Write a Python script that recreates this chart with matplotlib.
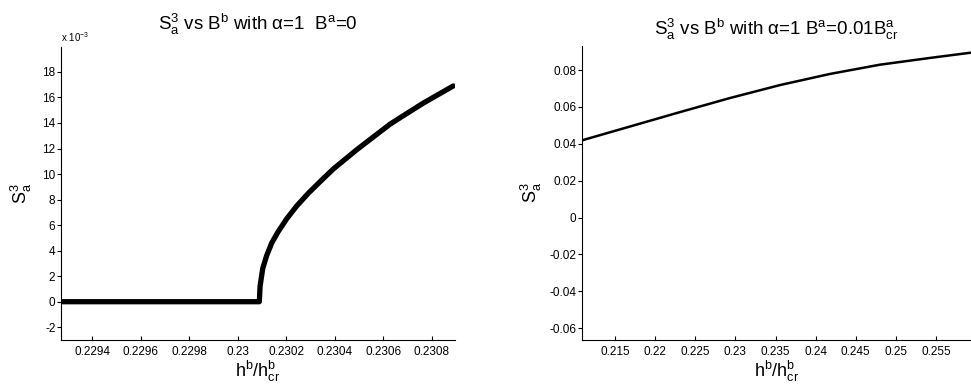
import matplotlib
matplotlib.use("Agg")
import matplotlib.pyplot as plt

plt.rcParams['font.family'] = ['Liberation Sans', 'DejaVu Sans']
plt.rcParams['mathtext.fontset'] = 'custom'
plt.rcParams['mathtext.rm'] = 'Liberation Sans'
plt.rcParams['mathtext.it'] = 'Liberation Sans'
plt.rcParams['mathtext.bf'] = 'Liberation Sans:bold'
plt.rcParams['axes.unicode_minus'] = False

# left panel: B^a = 0 (S values in units of 1e-3)
h_left = [0.22927, 0.22960, 0.23000, 0.230089, 0.230092, 0.230103, 0.230119,
          0.230140, 0.230167, 0.230202, 0.230243, 0.230291, 0.230339, 0.230394,
          0.230490, 0.230531, 0.230627, 0.230668, 0.230764, 0.230805, 0.230888]
s_left = [0.0, 0.0, 0.0, 0.0, 1.2, 2.6, 3.6,
          4.6, 5.5, 6.5, 7.5, 8.5, 9.4, 10.4,
          11.9, 12.5, 13.9, 14.4, 15.55, 16.0, 16.9]
xt_left = [0.2294, 0.2296, 0.2298, 0.2300, 0.2302, 0.2304, 0.2306, 0.2308]
xtl_left = ['0.2294', '0.2296', '0.2298', '0.23', '0.2302', '0.2304', '0.2306', '0.2308']
yt_left = [-2, 0, 2, 4, 6, 8, 10, 12, 14, 16, 18]

# right panel: B^a = 0.01 B^a_cr
h_right = [0.2109, 0.2231, 0.2293, 0.2356, 0.2418, 0.2480, 0.2543, 0.2593]
s_right = [0.0419, 0.0572, 0.0648, 0.0719, 0.0779, 0.0829, 0.0866, 0.0894]
xt_right = [0.215, 0.22, 0.225, 0.23, 0.235, 0.24, 0.245, 0.25, 0.255]
xtl_right = ['0.215', '0.22', '0.225', '0.23', '0.235', '0.24', '0.245', '0.25', '0.255']
yt_right = [-0.06, -0.04, -0.02, 0, 0.02, 0.04, 0.06, 0.08]
ytl_right = ['-0.06', '-0.04', '-0.02', '0', '0.02', '0.04', '0.06', '0.08']

fig = plt.figure(figsize=(9.71, 3.91), dpi=100)
ax1 = fig.add_axes([0.0628, 0.1304, 0.4058, 0.7494])
ax2 = fig.add_axes([0.5991, 0.1304, 0.4009, 0.7527])

def style(ax):
    ax.spines['top'].set_visible(False)
    ax.spines['right'].set_visible(False)
    ax.tick_params(axis='x', direction='in', length=3, labelsize=8.5, pad=4)
    ax.tick_params(axis='y', direction='out', length=3, labelsize=8.5, pad=1)

ax1.plot(h_left, s_left, color='black', lw=3.8, solid_capstyle='round', solid_joinstyle='round')
ax1.set_xlim(0.229272, 0.230895)
ax1.set_ylim(-3, 19.95)
ax1.set_xticks(xt_left)
ax1.set_xticklabels(xtl_left)
ax1.set_yticks(yt_left)
style(ax1)
ax1.text(0, 1.01, r'x 10$^{-3}$', transform=ax1.transAxes, fontsize=7, ha='left', va='bottom')
ax1.set_title(r'S$_a^3$ vs B$^b$ with $\alpha$=1  B$^a$=0', fontsize=13.5, pad=12)
ax1.set_xlabel(r'h$^b$/h$_{cr}^b$', fontsize=13, labelpad=1)
ax1.set_ylabel(r'S$_a^3$', fontsize=13, labelpad=6)

ax2.plot(h_right, s_right, color='black', lw=1.8, solid_joinstyle='round')
ax2.set_xlim(0.21085, 0.25936)
ax2.set_ylim(-0.0664, 0.0932)
ax2.set_xticks(xt_right)
ax2.set_xticklabels(xtl_right)
ax2.set_yticks(yt_right)
ax2.set_yticklabels(ytl_right)
style(ax2)
ax2.set_title(r'S$_a^3$ vs B$^b$ with $\alpha$=1 B$^a$=0.01B$_{cr}^a$', fontsize=13.5, pad=8)
ax2.set_xlabel(r'h$^b$/h$_{cr}^b$', fontsize=13, labelpad=1)
ax2.set_ylabel(r'S$_a^3$', fontsize=13, labelpad=4)

fig.savefig('out.png', dpi=100)
